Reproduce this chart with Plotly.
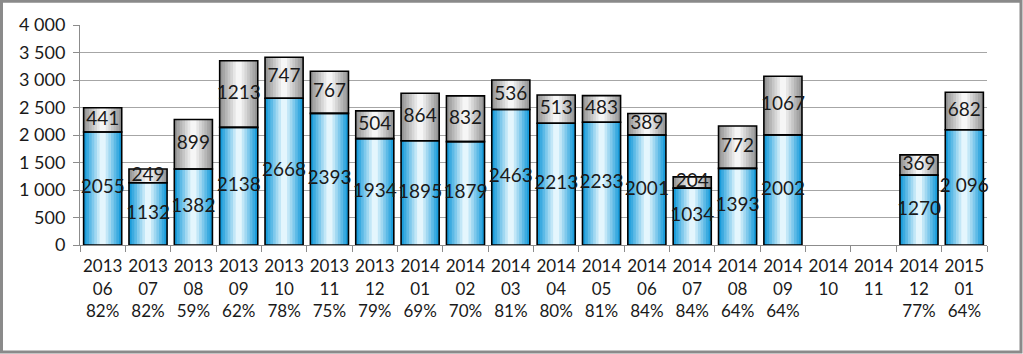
import plotly.graph_objects as go

years = ["2013","2013","2013","2013","2013","2013","2013","2014","2014","2014","2014","2014","2014","2014","2014","2014","2014","2014","2014","2015"]
months = ["06","07","08","09","10","11","12","01","02","03","04","05","06","07","08","09","10","11","12","01"]
pcts = ["82%","82%","59%","62%","78%","75%","79%","69%","70%","81%","80%","81%","84%","84%","64%","64%","","","77%","64%"]
bottom = [2055,1132,1382,2138,2668,2393,1934,1895,1879,2463,2213,2233,2001,1034,1393,2002,None,None,1270,2096]
top = [441,249,899,1213,747,767,504,864,832,536,513,483,389,204,772,1067,None,None,369,682]
bottom_labels = ["2055","1132","1382","2138","2668","2393","1934","1895","1879","2463","2213","2233","2001","1034","1393","2002","","","1270","2 096"]
top_labels = ["441","249","899","1213","747","767","504","864","832","536","513","483","389","204","772","1067","","","369","682"]

cats = [f"{y}<br>{m}<br>{p}" if p else f"{y}<br>{m}" for y, m, p in zip(years, months, pcts)]

FONT = "Lato"
BW = 0.84

def lerp(c1, c2, t):
    return "rgb(%d,%d,%d)" % tuple(round(a + (b - a) * t) for a, b in zip(c1, c2))

blue_edge, blue_mid = (26, 156, 218), (228, 246, 253)
gray_edge, gray_mid = (150, 150, 150), (246, 246, 246)
fracs = [1.0, 0.86, 0.72, 0.58, 0.44, 0.30, 0.16]

base_top = [b if b is not None else 0 for b in bottom]
n = len(cats)

fig = go.Figure()
for i, f in enumerate(fracs):
    t = i / (len(fracs) - 1)
    fig.add_trace(go.Bar(x=cats, y=bottom, base=[0]*n, width=[BW*f]*n,
                         marker=dict(color=lerp(blue_edge, blue_mid, t), line=dict(width=0)),
                         hoverinfo="skip", showlegend=False))
for i, f in enumerate(fracs):
    t = i / (len(fracs) - 1)
    fig.add_trace(go.Bar(x=cats, y=top, base=base_top, width=[BW*f]*n,
                         marker=dict(color=lerp(gray_edge, gray_mid, t), line=dict(width=0)),
                         hoverinfo="skip", showlegend=False))
# outlines
fig.add_trace(go.Bar(x=cats, y=bottom, base=[0]*n, width=[BW]*n,
                     marker=dict(color="rgba(0,0,0,0)", line=dict(width=1.6, color="black")),
                     hoverinfo="skip", showlegend=False))
fig.add_trace(go.Bar(x=cats, y=top, base=base_top, width=[BW]*n,
                     marker=dict(color="rgba(0,0,0,0)", line=dict(width=1.6, color="black")),
                     hoverinfo="skip", showlegend=False))

# labels
bx, by, bt = [], [], []
tx, ty, tt = [], [], []
for c, b, t_, bl, tl in zip(cats, bottom, top, bottom_labels, top_labels):
    if b is None:
        continue
    bx.append(c); by.append(b / 2); bt.append(bl)
    tx.append(c); ty.append(b + t_ / 2); tt.append(tl)
fig.add_trace(go.Scatter(x=bx, y=by, text=bt, mode="text", textposition="middle center",
                         textfont=dict(family=FONT, size=19, color="#1a1a1a"), cliponaxis=False,
                         hoverinfo="skip", showlegend=False))
fig.add_trace(go.Scatter(x=tx, y=ty, text=tt, mode="text", textposition="middle center",
                         textfont=dict(family=FONT, size=19, color="#1a1a1a"), cliponaxis=False,
                         hoverinfo="skip", showlegend=False))

L, R, T, B = 80, 36, 25, 109
W, H = 1023, 354
pw, ph = W - L - R, H - T - B

fig.update_layout(
    width=W, height=H, barmode="overlay",
    margin=dict(l=L, r=R, t=T, b=B, pad=0),
    paper_bgcolor="white", plot_bgcolor="white",
    font=dict(family=FONT, size=16, color="#1a1a1a"),
    separators=", ",
    xaxis=dict(type="category", categoryorder="array", categoryarray=cats, automargin=False,
               range=[-0.5, n - 0.5],
               showline=True, linecolor="#8c8c8c", linewidth=1, tickangle=0,
               ticks="outside", tickson="boundaries", ticklen=6, tickcolor="#8c8c8c",
               ticklabelstandoff=6,
               tickfont=dict(family=FONT, size=17, color="#1a1a1a"), showgrid=False),
    yaxis=dict(range=[0, 4000], tickvals=list(range(0, 4001, 500)), tickformat=",d", automargin=False,
               showline=True, linecolor="#8c8c8c", linewidth=1,
               ticks="outside", ticklen=6, tickcolor="#8c8c8c", ticklabelstandoff=4,
               gridcolor="#a6a6a6", gridwidth=1, zeroline=False,
               tickfont=dict(family=FONT, size=18, color="#1a1a1a")),
    shapes=[dict(type="rect", xref="paper", yref="paper",
                 x0=(1.5 - L) / pw, x1=(W - 2.0 - L) / pw,
                 y0=(T + ph - (H - 2.0)) / ph, y1=(T + ph - 1.2) / ph,
                 line=dict(color="#8a8a8a", width=3), layer="above")],
)

fig.write_html("out.html")
